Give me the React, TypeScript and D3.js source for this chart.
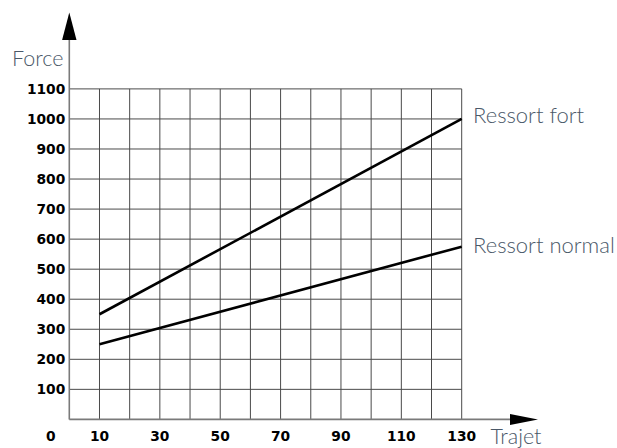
import React from "react";
import * as d3 from "d3";

const W = 617;
const H = 448;

// Data
const xGridValues = [10, 20, 30, 40, 50, 60, 70, 80, 90, 100, 110, 120, 130];
const yGridValues = [100, 200, 300, 400, 500, 600, 700, 800, 900, 1000, 1100];
const xTickLabels = [0, 10, 30, 50, 70, 90, 110, 130];
const yTickLabels = [100, 200, 300, 400, 500, 600, 700, 800, 900, 1000, 1100];
const trajet = [10, 130];
const ressortFort = [350, 1000];
const ressortNormal = [250, 575];
const seriesNames = ["Ressort fort", "Ressort normal"];

const margin = { left: 69.3, right: W - 461.7, top: 88.9, bottom: H - 419.4 };

export default function App() {
  const x = d3.scaleLinear().domain([0, 130]).range([margin.left, W - margin.right]);
  const y = d3.scaleLinear().domain([0, 1100]).range([H - margin.bottom, margin.top]);

  const line = d3
    .line<[number, number]>()
    .x((d) => x(d[0]))
    .y((d) => y(d[1]));

  const series = [ressortFort, ressortNormal].map((vals) =>
    trajet.map((t, i) => [t, vals[i]] as [number, number])
  );

  const x0 = x(0);
  const y0 = y(0);
  const textColor = "#4a5868";
  const lightFont = "Lato, 'Open Sans', sans-serif";
  const boldFont = "'DejaVu Sans', sans-serif";

  return (
    <svg
      width={W}
      height={H}
      style={{ position: "absolute", left: 0, top: 0, background: "#fff" }}
    >
      {/* grid */}
      <g stroke="#4a4a4a" strokeWidth={1}>
        {xGridValues.map((v) => (
          <line key={"vx" + v} x1={x(v)} x2={x(v)} y1={y(0)} y2={y(1100)} />
        ))}
        {yGridValues.map((v) => (
          <line key={"hy" + v} x1={x(0)} x2={x(130)} y1={y(v)} y2={y(v)} />
        ))}
      </g>

      {/* axes */}
      <g stroke="#7a7a7a" strokeWidth={1.6}>
        <line x1={x0} x2={x0} y1={y0} y2={40} />
        <line x1={x0} x2={510} y1={y0} y2={y0} />
      </g>
      <path d={`M${x0},12.5 L${x0 - 7.2},40 L${x0 + 7.2},40 Z`} fill="#000" />
      <path d={`M538,${y0} L510,${y0 - 5.5} L510,${y0 + 5.5} Z`} fill="#000" />

      {/* data lines */}
      {series.map((s, i) => (
        <path key={i} d={line(s) || ""} fill="none" stroke="#000" strokeWidth={2.6} />
      ))}

      {/* y tick labels */}
      <g fontFamily={boldFont} fontWeight="bold" fontSize={13.8} fill="#000" textAnchor="end">
        {yTickLabels.map((v) => (
          <text key={v} x={x0 - 4} y={y(v)} dy="0.36em">
            {v}
          </text>
        ))}
      </g>

      {/* x tick labels */}
      <g fontFamily={boldFont} fontWeight="bold" fontSize={13.8} fill="#000" textAnchor="middle">
        {xTickLabels.map((v) => (
          <text key={v} x={x(v) + (v === 0 ? -18.6 : 0)} y={440.5}>
            {v}
          </text>
        ))}
      </g>

      {/* axis titles */}
      <text x={12} y={65.5} fontFamily={lightFont} fontWeight={300} fontSize={21.5} fill={textColor}>
        Force
      </text>
      <text x={490.5} y={444} fontFamily={lightFont} fontWeight={300} fontSize={21.5} fill={textColor}>
        Trajet
      </text>

      {/* series labels */}
      <text x={473} y={122.7} fontFamily={lightFont} fontWeight={300} fontSize={22} fill={textColor}>
        {seriesNames[0]}
      </text>
      <text x={473} y={252.8} fontFamily={lightFont} fontWeight={300} fontSize={22} fill={textColor}>
        {seriesNames[1]}
      </text>
    </svg>
  );
}
